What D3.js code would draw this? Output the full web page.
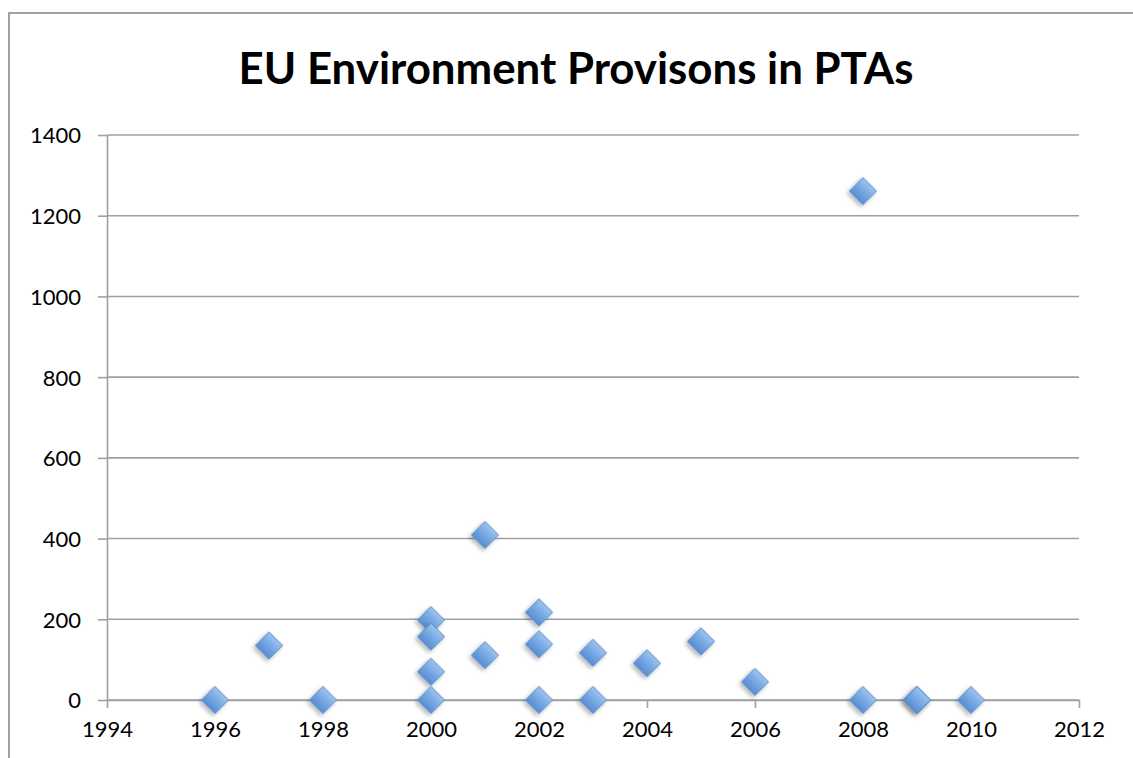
<!DOCTYPE html>
<html>
<head>
<meta charset="utf-8">
<script src="https://cdn.jsdelivr.net/npm/d3@7"></script>
<style>
  html, body { margin: 0; padding: 0; background: #fff; }
  svg { display: block; font-family: Lato, "Open Sans", sans-serif; }
  .axis text { fill: #000; font-size: 22px; font-family: Lato, "Open Sans", sans-serif; }
  .axis path, .axis line { stroke: #a0a0a0; stroke-width: 1.6; }
</style>
</head>
<body>
<div id="chart"></div>
<script>
// EU environment provisions in PTAs - scatter
const title = "EU Environment Provisons in PTAs";
const years  = [1996, 1997, 1998, 2000, 2000, 2000, 2000, 2001, 2001, 2002, 2002, 2002, 2003, 2003, 2004, 2005, 2006, 2008, 2008, 2009, 2009, 2010];
const counts = [0,    135,  0,    198,  157,  70,   0,    409,  111,  217,  138,  0,    117,  0,    91,   145,  45,   1261, 0,    0,    0,    0];
const xTicks = [1994, 1996, 1998, 2000, 2002, 2004, 2006, 2008, 2010, 2012];
const yTicks = [0, 200, 400, 600, 800, 1000, 1200, 1400];

const W = 1133, H = 758;
const margin = { top: 135, right: 54, bottom: 58, left: 107 };
const width = W - margin.left - margin.right;
const height = H - margin.top - margin.bottom;

const root = d3.select("#chart").append("svg")
    .attr("width", W)
    .attr("height", H);

// gradient + shadow for the markers
const defs = root.append("defs");
const grad = defs.append("linearGradient")
    .attr("id", "dgrad").attr("x1", 0).attr("y1", 0).attr("x2", 0).attr("y2", 1);
grad.append("stop").attr("offset", "0%").attr("stop-color", "#9cc3ef");
grad.append("stop").attr("offset", "55%").attr("stop-color", "#72a5e1");
grad.append("stop").attr("offset", "100%").attr("stop-color", "#5a8ccf");
const shadow = defs.append("filter").attr("id", "shadow")
    .attr("x", "-50%").attr("y", "-50%").attr("width", "200%").attr("height", "200%");
shadow.append("feDropShadow")
    .attr("dx", 0).attr("dy", 3).attr("stdDeviation", 2)
    .attr("flood-color", "#000").attr("flood-opacity", 0.3);

// outer chart border
root.append("rect")
    .attr("x", 9).attr("y", 13)
    .attr("width", W + 20).attr("height", H + 20)
    .attr("fill", "none")
    .attr("stroke", "#a0a0a0")
    .attr("stroke-width", 2);

// title, fitted to the reference width
const titleText = root.append("text")
    .attr("x", 576)
    .attr("y", 84)
    .attr("text-anchor", "middle")
    .attr("font-weight", "bold")
    .attr("font-size", 38)
    .attr("fill", "#000")
    .text(title);
const tw = titleText.node().getComputedTextLength();
titleText.attr("font-size", 38 * 675 / tw);

const svg = root.append("g")
    .attr("transform", `translate(${margin.left},${margin.top})`);

const x = d3.scaleLinear().domain([1994, 2012]).range([0, width]);
const y = d3.scaleLinear().domain([0, 1400]).range([height, 0]);

// horizontal gridlines
svg.append("g")
    .selectAll("line")
    .data(yTicks)
    .enter()
    .append("line")
    .attr("x1", 0)
    .attr("x2", width)
    .attr("y1", d => y(d))
    .attr("y2", d => y(d))
    .attr("stroke", "#a0a0a0")
    .attr("stroke-width", 1.6);

// Y axis
svg.append("g")
    .attr("class", "axis")
    .call(d3.axisLeft(y).tickValues(yTicks).tickFormat(d3.format("d")).tickSize(9).tickSizeOuter(0).tickPadding(17))
    .call(g => g.selectAll("text").attr("dy", "0.36em"));

// X axis
svg.append("g")
    .attr("class", "axis")
    .attr("transform", `translate(0,${height})`)
    .call(d3.axisBottom(x).tickValues(xTicks).tickFormat(d3.format("d")).tickSize(8).tickSizeOuter(0).tickPadding(13));

// diamonds
const diamond = d3.symbol().type(d3.symbolSquare).size(370);
svg.selectAll(".pt")
    .data(years.map((yr, i) => ({ year: yr, value: counts[i] })))
    .enter()
    .append("path")
    .attr("class", "pt")
    .attr("d", diamond)
    .attr("transform", d => `translate(${x(d.year)},${y(d.value)}) rotate(45)`)
    .attr("fill", "url(#dgrad)")
    .attr("stroke", "#5a8cc8")
    .attr("stroke-width", 0.8)
    .attr("filter", "url(#shadow)");
</script>
</body>
</html>
